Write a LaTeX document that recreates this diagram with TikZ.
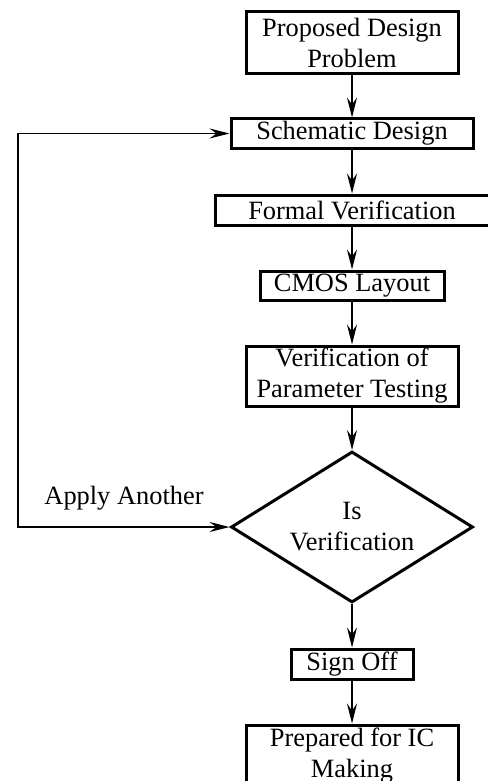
\documentclass[tikz,border=0pt]{standalone}
\usepackage{fontspec}
\setmainfont{Liberation Serif}
\usetikzlibrary{arrows.meta,shapes.geometric}

\tikzset{
  stage/.style={draw, line width=1.5pt, inner sep=0pt, align=center,
    font=\fontsize{13.2}{15.5}\selectfont},
  check/.style={stage, diamond, aspect=1.6},
  tip/.tip={Stealth[length=10pt, width=5pt, inset=3.5pt]},
  flow/.style={line width=0.65pt, -tip},
}

\begin{document}
\begin{tikzpicture}[x=0.5pt, y=-0.5pt]
  \def\cx{352}
  \useasboundingbox (0,0) rectangle (487,781);

  % main column of stages
  \node[stage, minimum width=106pt, minimum height=31pt] (problem) at (\cx,43)
    {Proposed Design\\Problem};
  \node[stage, minimum width=121pt, minimum height=14.5pt] (schematic) at (\cx,133.5)
    {Schematic Design};
  \node[stage, minimum width=137pt, minimum height=15pt] (formal) at (\cx,210)
    {Formal Verification};
  \node[stage, minimum width=92pt, minimum height=14.5pt] (layout) at (\cx,285.5)
    {CMOS Layout};
  \node[stage, minimum width=106pt, minimum height=30pt] (param) at (\cx,376)
    {Verification of\\Parameter Testing};
  \node[check, minimum width=121pt, minimum height=75.5pt] (decide) at (\cx,527)
    {Is\\Verification};
  \node[stage, minimum width=61pt, minimum height=15pt] (signoff) at (\cx,664)
    {Sign Off};
  \node[stage, minimum width=106pt, minimum height=31pt] (ic) at (\cx,756)
    {Prepared for IC\\Making};

  \draw[flow] (problem) -- (schematic);
  \draw[flow] (schematic) -- (formal);
  \draw[flow] (formal) -- (layout);
  \draw[flow] (layout) -- (param);
  \draw[flow] (param) -- (decide);
  \draw[flow] (decide) -- (signoff);
  \draw[flow] (signoff) -- (ic);

  % loop back to the schematic stage
  \coordinate (back) at (18,527);
  \draw[flow, tip-tip] (decide.west) -- (back) |- (schematic.west);
  \node[font=\fontsize{13.2}{15.5}\selectfont] (again) at (124,498) {Apply Another};
\end{tikzpicture}
\end{document}
